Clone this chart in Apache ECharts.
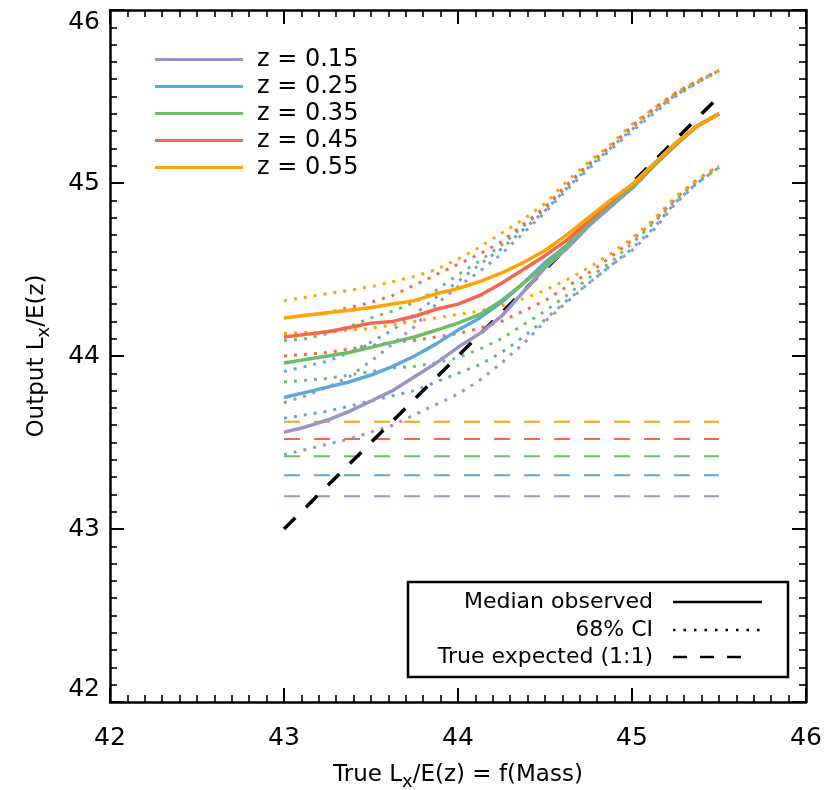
<!DOCTYPE html>
<html>
<head>
<meta charset="utf-8">
<script src="https://cdn.jsdelivr.net/npm/echarts@6/dist/echarts.min.js"></script>
<style>
html,body{margin:0;padding:0;background:#fff;}
#chart{width:827px;height:790px;}
</style>
</head>
<body>
<div id="chart"></div>
<script>
// ---------------- DATA ----------------
const xs = [43.0, 43.125, 43.25, 43.375, 43.5, 43.625, 43.75, 43.875, 44.0, 44.125, 44.25,
            44.375, 44.5, 44.625, 44.75, 44.875, 45.0, 45.125, 45.25, 45.375, 45.5];
const zLabels = ['z = 0.15', 'z = 0.25', 'z = 0.35', 'z = 0.45', 'z = 0.55'];
const xTicks = [42, 43, 44, 45, 46];
const yTicks = [42, 43, 44, 45, 46];

// median observed
const med015 = [43.56,43.59,43.63,43.68,43.74,43.80,43.88,43.96,44.05,44.13,44.23,44.37,44.51,44.62,44.75,44.86,44.97,45.10,45.22,45.33,45.40];
const med025 = [43.76,43.79,43.82,43.85,43.89,43.94,44.00,44.07,44.15,44.22,44.31,44.42,44.54,44.64,44.76,44.87,44.97,45.10,45.22,45.33,45.40];
const med035 = [43.96,43.98,44.00,44.02,44.05,44.08,44.11,44.15,44.19,44.24,44.32,44.42,44.52,44.64,44.77,44.88,44.98,45.10,45.22,45.33,45.40];
const med045 = [44.11,44.125,44.14,44.165,44.19,44.20,44.23,44.27,44.30,44.35,44.42,44.50,44.58,44.67,44.78,44.89,44.99,45.11,45.23,45.33,45.40];
const med055 = [44.22,44.235,44.25,44.265,44.28,44.30,44.32,44.36,44.39,44.43,44.48,44.54,44.61,44.70,44.80,44.90,44.99,45.11,45.23,45.33,45.40];

// 68% CI upper
const up015 = [43.73,43.77,43.82,43.88,43.97,44.07,44.17,44.30,44.40,44.49,44.59,44.71,44.83,44.96,45.08,45.19,45.30,45.40,45.50,45.58,45.65];
const up025 = [43.91,43.94,43.97,44.02,44.08,44.15,44.24,44.34,44.43,44.53,44.62,44.73,44.84,44.97,45.09,45.20,45.31,45.41,45.51,45.58,45.65];
const up035 = [44.09,44.10,44.13,44.17,44.22,44.26,44.31,44.38,44.47,44.55,44.64,44.75,44.85,44.98,45.10,45.21,45.32,45.42,45.51,45.58,45.65];
const up045 = [44.22,44.235,44.25,44.28,44.31,44.35,44.41,44.47,44.53,44.59,44.66,44.76,44.86,44.99,45.11,45.21,45.33,45.43,45.52,45.59,45.65];
const up055 = [44.32,44.34,44.36,44.38,44.40,44.43,44.46,44.50,44.56,44.63,44.71,44.79,44.88,45.01,45.12,45.22,45.34,45.43,45.52,45.59,45.65];

// 68% CI lower
const lo015 = [43.43,43.46,43.49,43.52,43.56,43.60,43.66,43.72,43.78,43.86,43.96,44.07,44.20,44.31,44.42,44.52,44.61,44.73,44.88,45.00,45.09];
const lo025 = [43.64,43.66,43.68,43.71,43.74,43.77,43.80,43.85,43.90,43.95,44.02,44.11,44.21,44.32,44.42,44.52,44.62,44.74,44.89,45.00,45.09];
const lo035 = [43.85,43.86,43.87,43.89,43.91,43.93,43.94,43.96,43.99,44.04,44.10,44.18,44.26,44.35,44.45,44.54,44.65,44.77,44.90,45.01,45.09];
const lo045 = [44.00,44.01,44.02,44.04,44.06,44.08,44.09,44.11,44.13,44.16,44.20,44.26,44.32,44.40,44.48,44.57,44.67,44.78,44.91,45.02,45.10];
const lo055 = [44.13,44.135,44.14,44.15,44.16,44.18,44.20,44.22,44.24,44.26,44.29,44.33,44.38,44.44,44.51,44.59,44.68,44.79,44.92,45.02,45.10];

// horizontal (dashed) levels for each z
const levels = [43.19, 43.31, 43.42, 43.52, 43.62];
const levelRange = [43.0, 45.5];

// 1:1 reference
const oneToOneX = [43.0, 45.5];
const oneToOneY = [43.0, 45.5];

const colors = ['#9b93c8', '#5aa8dc', '#6cbd6a', '#f7654e', '#ffa300'];

// ---------------- BUILD ----------------
const FONT = 'DejaVu Sans';
const medians = [med015, med025, med035, med045, med055];
const uppers = [up015, up025, up035, up045, up055];
const lowers = [lo015, lo025, lo035, lo045, lo055];
const pair = (ys) => xs.map((x, i) => [x, ys[i]]);

const series = [];
levels.forEach((lv, i) => {
  series.push({
    name: zLabels[i] + ' level', type: 'line', showSymbol: false, silent: true,
    data: levelRange.map(x => [x, lv]),
    lineStyle: {color: colors[i], width: 2, type: [16, 14], cap: 'butt'},
    itemStyle: {color: colors[i]}, z: 1
  });
});
for (let i = 0; i < 5; i++) {
  [uppers[i], lowers[i]].forEach((arr, k) => {
    series.push({
      name: zLabels[i] + (k ? ' lower' : ' upper'), type: 'line', showSymbol: false, silent: true,
      data: pair(arr),
      lineStyle: {color: colors[i], width: 3, type: [3, 7], cap: 'butt'},
      itemStyle: {color: colors[i]}, z: 2 + i
    });
  });
}
series.push({
  name: 'True expected (1:1)', type: 'line', showSymbol: false, silent: true,
  data: oneToOneX.map((x, i) => [x, oneToOneY[i]]),
  lineStyle: {color: '#000', width: 3.5, type: [16, 15], cap: 'butt'},
  itemStyle: {color: '#000'}, z: 8
});
for (let i = 0; i < 5; i++) {
  series.push({
    name: zLabels[i], type: 'line', showSymbol: false, silent: true,
    data: pair(medians[i]),
    lineStyle: {color: colors[i], width: 3.5},
    itemStyle: {color: colors[i]}, z: 10 + i
  });
}

const axisCommon = {
  type: 'value', min: 42, max: 46, interval: 1,
  axisLine: {show: true, onZero: false, lineStyle: {color: '#000', width: 2.5}},
  axisTick: {show: true, inside: true, length: 14, lineStyle: {color: '#000', width: 2}},
  minorTick: {show: true, splitNumber: 10, length: 7, lineStyle: {color: '#000', width: 1.6}},
  splitLine: {show: false}, minorSplitLine: {show: false}
};

const chart = echarts.init(document.getElementById('chart'), null, {renderer: 'canvas'});
chart.setOption({
  animation: false,
  backgroundColor: '#fff',
  grid: {left: 110, right: 21, top: 10, bottom: 88, containLabel: false, outerBoundsMode: 'none'},
  xAxis: [
    Object.assign({}, axisCommon, {
      position: 'bottom',
      axisLabel: {show: true, color: '#000', fontSize: 25, fontFamily: FONT, margin: 24,
        formatter: v => xTicks.includes(v) ? String(v) : ''},
      name: 'True L{sub|x}/E(z) = f(Mass)', nameLocation: 'middle', nameGap: 58,
      nameTextStyle: {color: '#000', fontSize: 23, fontFamily: FONT,
        rich: {sub: {fontSize: 18, fontFamily: FONT, color: '#000', padding: [13, 0, 0, 0]}}}
    }),
    Object.assign({}, axisCommon, {position: 'top', axisLabel: {show: false}})
  ],
  yAxis: [
    Object.assign({}, axisCommon, {
      position: 'left',
      axisLabel: {show: true, color: '#000', fontSize: 25, fontFamily: FONT, margin: 10,
        verticalAlignMaxLabel: 'top', verticalAlignMinLabel: 'bottom',
        formatter: v => yTicks.includes(v) ? String(v) : ''},
      name: 'Output L{sub|x}/E(z)', nameLocation: 'middle', nameGap: 57,
      nameTextStyle: {color: '#000', fontSize: 23, fontFamily: FONT,
        rich: {sub: {fontSize: 18, fontFamily: FONT, color: '#000', padding: [13, 0, 0, 0]}}}
    }),
    Object.assign({}, axisCommon, {position: 'right', axisLabel: {show: false}})
  ],
  legend: {
    show: true, data: zLabels, orient: 'vertical', left: 150, top: 41,
    icon: 'rect', itemWidth: 88, itemHeight: 3, itemGap: 0,
    selectedMode: false,
    textStyle: {color: '#000', fontSize: 24, fontFamily: FONT, lineHeight: 27, padding: [0, 0, 0, 9]}
  },
  graphic: [
    {type: 'rect', shape: {x: 408, y: 582, width: 380, height: 95},
      style: {fill: '#fff', stroke: '#000', lineWidth: 2.5}, z: 100},
    {type: 'text', x: 653, y: 602, style: {text: 'Median observed', font: '22px "DejaVu Sans"', fill: '#000', textAlign: 'right', textVerticalAlign: 'middle'}, z: 101},
    {type: 'text', x: 653, y: 630, style: {text: '68% CI', font: '22px "DejaVu Sans"', fill: '#000', textAlign: 'right', textVerticalAlign: 'middle'}, z: 101},
    {type: 'text', x: 653, y: 657, style: {text: 'True expected (1:1)', font: '22px "DejaVu Sans"', fill: '#000', textAlign: 'right', textVerticalAlign: 'middle'}, z: 101},
    {type: 'line', shape: {x1: 673, y1: 602, x2: 762, y2: 602}, style: {stroke: '#000', lineWidth: 2.5}, z: 101},
    {type: 'line', shape: {x1: 673, y1: 630, x2: 762, y2: 630}, style: {stroke: '#000', lineWidth: 2.5, lineDash: [2.5, 8]}, z: 101},
    {type: 'line', shape: {x1: 673, y1: 657, x2: 748, y2: 657}, style: {stroke: '#000', lineWidth: 2.5, lineDash: [14, 13]}, z: 101}
  ],
  series: series
});
</script>
</body>
</html>
